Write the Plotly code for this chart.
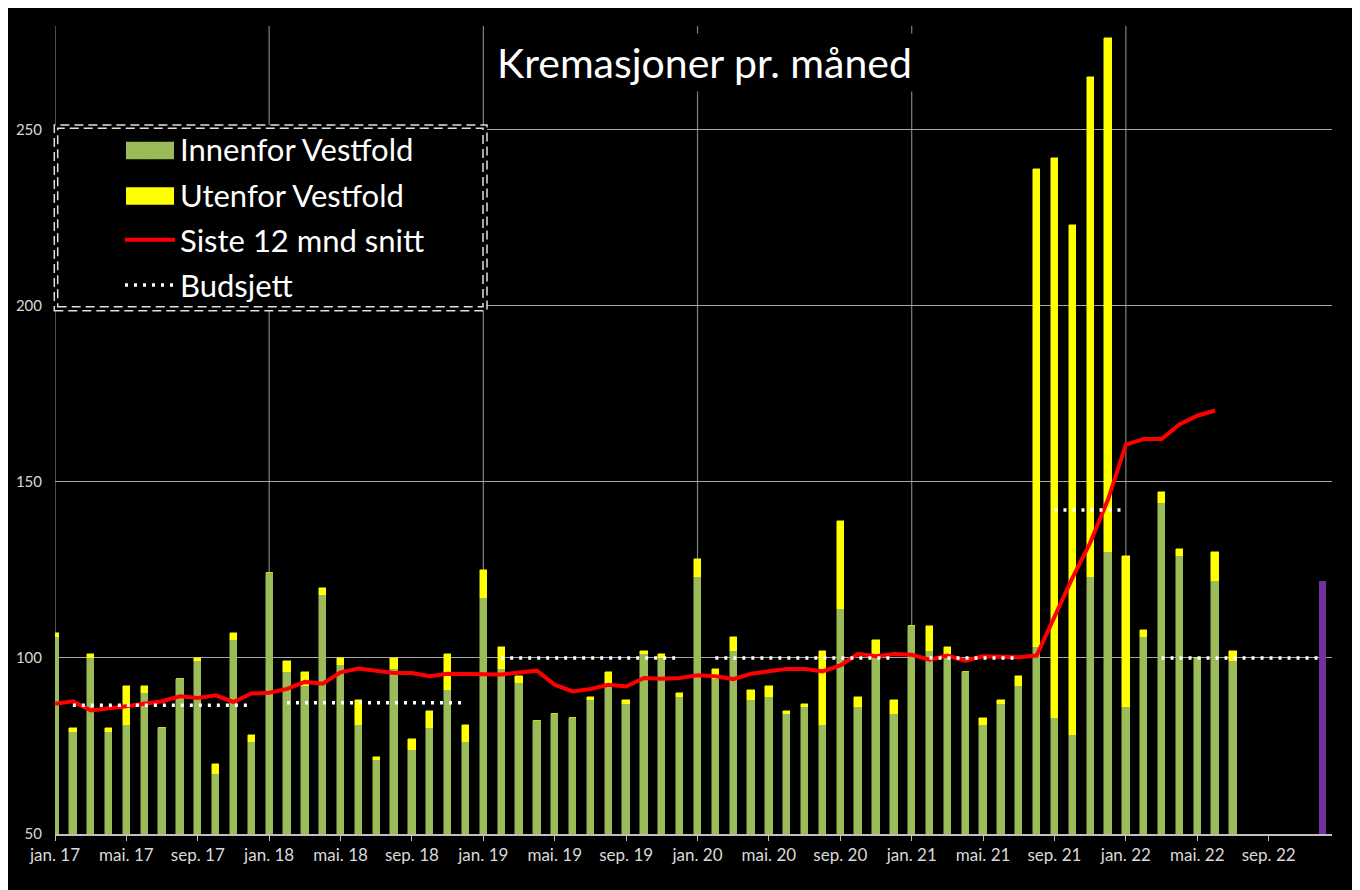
import plotly.graph_objects as go

# ---------------- data ----------------
month_names = ["jan.", "feb.", "mar.", "apr.", "mai.", "jun.", "jul.", "aug.", "sep.", "okt.", "nov.", "des."]
years = ["17", "18", "19", "20", "21", "22"]
months = [f"{m} {y}" for y in years for m in month_names]

innenfor = [106, 79, 100, 79, 81, 90, 80, 94, 99, 67, 105, 76,
            124, 96, 92, 118, 98, 81, 71, 97, 74, 80, 91, 76,
            117, 97, 93, 82, 84, 83, 88, 92, 87, 101, 100, 89,
            123, 94, 102, 88, 89, 84, 86, 81, 114, 86, 101, 84,
            109, 102, 101, 96, 81, 87, 92, 103, 83, 78, 123, 130,
            86, 106, 144, 129, 100, 122, 99, None, None, None, None, None]
utenfor = [1, 1, 1, 1, 11, 2, 0, 0, 1, 3, 2, 2,
           0, 3, 4, 2, 2, 7, 1, 3, 3, 5, 10, 5,
           8, 6, 2, 0, 0, 0, 1, 4, 1, 1, 1, 1,
           5, 3, 4, 3, 3, 1, 1, 21, 25, 3, 4, 4,
           0, 7, 2, 0, 2, 1, 3, 136, 159, 145, 142, 146,
           43, 2, 3, 2, 0, 8, 3, None, None, None, None, None]
snitt = [87.0, 87.7, 85.1, 85.6, 86.3, 87.0, 87.7, 89.1, 88.6, 89.4, 87.5, 89.9,
         90.1, 91.2, 93.2, 92.7, 95.9, 97.0, 96.4, 95.7, 95.7, 94.8, 95.5, 95.5,
         95.3, 95.3, 95.9, 96.4, 92.4, 90.5, 91.2, 92.4, 91.9, 94.3, 94.1, 94.3,
         95.1, 94.8, 94.0, 95.5, 96.2, 96.9, 96.9, 96.2, 97.9, 101.2, 100.5, 101.1,
         100.9, 99.5, 100.7, 99.2, 100.5, 100.3, 100.2, 100.7, 111.4, 122.7, 132.7, 145.0,
         160.6, 162.2, 162.2, 166.3, 168.8, 170.3, None, None, None, None, None, None]
N = None
budsjett = [N, 86.6, 86.6, 86.6, 86.6, 86.6, 86.6, 86.6, 86.6, 86.6, 86.6, 86.6,
            N, 87.3, 87.3, 87.3, 87.3, 87.3, 87.3, 87.3, 87.3, 87.3, 87.3, 87.3,
            N, 100, 100, 100, 100, 100, 100, 100, 100, 100, 100, 100,
            N, 100, 100, 100, 100, 100, 100, 100, 100, 100, 100, 100,
            N, 100, 100, 100, 100, 100, 100, N, 142, 142, 142, 142,
            142, N, 100, 100, 100, 100, 100, 100, 100, 100, 100, 100]
prognose = [None] * 71 + [122]

tick_every = 4
y_ticks = [50, 100, 150, 200, 250]

GREEN, YELLOW, RED, PURPLE = "#9BBB59", "#FFFF00", "#FF0000", "#7030A0"

# ---------------- layout helpers ----------------
W, H = 1360, 890
L, R, T, B = 47, 1324, 18, 826  # plot area in figure pixels


def px(xp):
    return (xp - L) / (R - L)


def py(yp):
    return (B - yp) / (B - T)


x = list(range(len(months)))
FONT = "Lato"

fig = go.Figure()
fig.add_trace(go.Bar(x=x, y=innenfor, name="Innenfor Vestfold", width=0.41,
                     marker=dict(color=GREEN, line=dict(color=GREEN, width=0.5)),
                     legendgroup="a"))
fig.add_trace(go.Bar(x=x, y=utenfor, name="Utenfor Vestfold", width=0.41,
                     marker=dict(color=YELLOW, line=dict(color=YELLOW, width=0.5)),
                     legendgroup="b"))
fig.add_trace(go.Bar(x=x, y=prognose, name="Prognose", width=0.41, showlegend=False,
                     marker=dict(color=PURPLE, line=dict(width=0))))
fig.add_trace(go.Scatter(x=x, y=snitt, name="Siste 12 mnd snitt", mode="lines",
                         line=dict(color=RED, width=4), legendgroup="c"))
fig.add_trace(go.Scatter(x=x, y=budsjett, name="Budsjett", mode="lines",
                         line=dict(color="#FFFFFF", width=3.5, dash="3px,6px"),
                         legendgroup="d"))

shapes = []
# vertical yearly gridlines at every January
for i, m in enumerate(months):
    if m.startswith("jan."):
        shapes.append(dict(type="line", xref="x", yref="paper", x0=i, x1=i, y0=0, y1=1,
                           line=dict(color="#808080", width=1.2), layer="below"))
# legend box (black fill + double dashed border)
shapes.append(dict(type="rect", xref="paper", yref="paper",
                   x0=px(46.3), x1=px(479), y0=py(302.7), y1=py(117),
                   fillcolor="#000000", line=dict(color="#e0e0e0", width=1.5, dash="9px,5px"),
                   layer="above"))
shapes.append(dict(type="rect", xref="paper", yref="paper",
                   x0=px(49.7), x1=px(475), y0=py(298.7), y1=py(120.3),
                   fillcolor="rgba(0,0,0,0)", line=dict(color="#e0e0e0", width=1.5, dash="9px,5px"),
                   layer="above"))
# wide legend swatches for the two bar series (as in the original legend)
for col, yc in ((GREEN, 142.5), (YELLOW, 188)):
    shapes.append(dict(type="rect", xref="paper", yref="paper",
                       x0=px(118), x1=px(166), y0=py(yc + 8.8), y1=py(yc - 8.8),
                       fillcolor=col, line=dict(width=0), layer="above"))

fig.update_layout(
    width=W, height=H,
    margin=dict(l=L, r=W - R, t=T, b=H - B, pad=0, autoexpand=False),
    paper_bgcolor="#000000", plot_bgcolor="#000000",
    barmode="stack", bargap=0,
    font=dict(family=FONT, color="#d9d9d9"),
    shapes=shapes,
    showlegend=True,
    legend=dict(x=px(112), y=py(114.5), xanchor="left", yanchor="top",
                bgcolor="rgba(0,0,0,0)", borderwidth=0,
                font=dict(family=FONT, size=31, color="#ffffff"),
                traceorder="grouped", tracegroupgap=2, itemwidth=50),
    xaxis=dict(range=[0, 71.55], tickmode="array", automargin=False,
               tickvals=x[::tick_every], ticktext=months[::tick_every],
               showgrid=False, zeroline=False,
               showline=True, linecolor="#bfbfbf", linewidth=1.5,
               ticks="outside", ticklen=5, tickcolor="#bfbfbf", tickwidth=1.2,
               tickfont=dict(family=FONT, size=17, color="#d9d9d9")),
    yaxis=dict(range=[50, 279.5], tickmode="array", tickvals=y_ticks, automargin=False,
               showgrid=True, gridcolor="#a6a6a6", gridwidth=1,
               zeroline=False, showline=False, ticks="",
               ticklabelstandoff=12,
               tickfont=dict(family=FONT, size=15, color="#d9d9d9")),
    annotations=[dict(text="Kremasjoner pr. måned", xref="paper", yref="paper",
                      x=px(696), y=py(54), xanchor="center", yanchor="middle",
                      showarrow=False, bgcolor="#000000", borderpad=4,
                      font=dict(family=FONT, size=41, color="#ffffff"))],
)

fig.write_html("out.html")
